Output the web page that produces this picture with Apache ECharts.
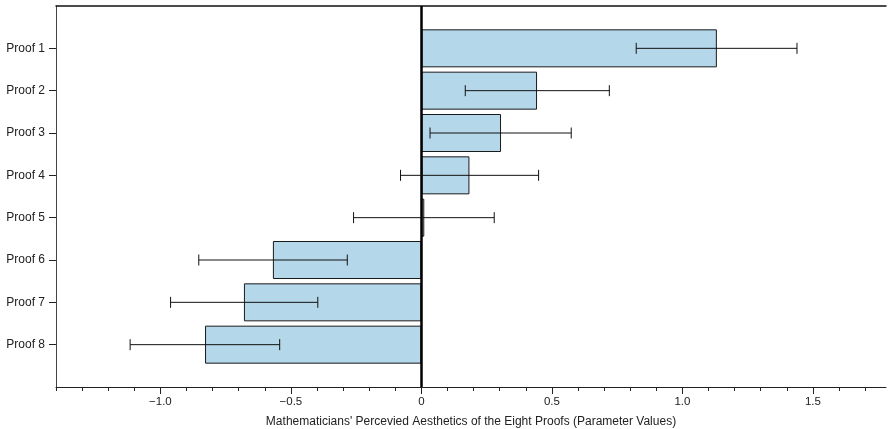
<!DOCTYPE html>
<html>
<head>
<meta charset="utf-8">
<script src="https://cdn.jsdelivr.net/npm/echarts@6/dist/echarts.min.js"></script>
<style>html,body{margin:0;padding:0;background:#fff}#c{width:888px;height:429px}</style>
</head>
<body>
<div id="c"></div>
<script>
// ---- data ----
const categories = ['Proof 1','Proof 2','Proof 3','Proof 4','Proof 5','Proof 6','Proof 7','Proof 8'];
const estimates  = [1.132, 0.443, 0.305, 0.184, 0.011, -0.569, -0.680, -0.829];
const errLow     = [0.823, 0.168, 0.033, -0.080, -0.260, -0.853, -0.961, -1.116];
const errHigh    = [1.439, 0.720, 0.574, 0.449, 0.279, -0.284, -0.397, -0.543];
const majorTicks = [-1.0, -0.5, 0, 0.5, 1.0, 1.5];
const majorLabels = ['\u22121.0', '\u22120.5', '0', '0.5', '1.0', '1.5'];
const minorTicks = [-1.4,-1.3,-1.2,-1.1,-1.0,-0.9,-0.8,-0.7,-0.6,-0.5,-0.4,-0.3,-0.2,-0.1,0,0.1,0.2,0.3,0.4,0.5,0.6,0.7,0.8,0.9,1.0,1.1,1.2,1.3,1.4,1.5,1.6,1.7];
const xTitle = "Mathematicians' Percevied Aesthetics of the Eight Proofs (Parameter Values)";
const xMin = -1.4, xMax = 1.78;

const yCats = [''].concat(categories).concat(['']);
const FONT = '"Liberation Sans", Arial, Helvetica, sans-serif';

const chart = echarts.init(document.getElementById('c'), null, {renderer:'canvas'});
chart.setOption({
  animation: false,
  grid: {left: 56, right: 2, top: 6, bottom: 42, containLabel: false, outerBoundsMode: 'none'},
  xAxis: [
    {
      type: 'value', min: xMin, max: xMax, position: 'bottom',
      splitLine: {show: false},
      axisLine: {show: true, lineStyle: {color: '#222', width: 1}},
      axisTick: {show: true, length: 7, customValues: majorTicks, lineStyle: {color: '#222'}},
      axisLabel: {
        customValues: majorTicks, color: '#222', fontSize: 11.5, fontFamily: FONT, margin: 9,
        formatter: function (v) {
          for (let i = 0; i < majorTicks.length; i++) if (Math.abs(v - majorTicks[i]) < 1e-6) return majorLabels[i];
          return '';
        }
      },
      name: xTitle, nameLocation: 'middle', nameGap: 29,
      nameTextStyle: {color: '#222', fontSize: 12, fontFamily: FONT}
    },
    {
      type: 'value', min: xMin, max: xMax, position: 'bottom',
      splitLine: {show: false},
      axisLine: {show: false},
      axisTick: {show: true, length: 4, customValues: minorTicks, lineStyle: {color: '#222'}},
      axisLabel: {show: false}
    },
    {
      type: 'value', min: xMin, max: xMax, position: 'top',
      splitLine: {show: false},
      axisLine: {show: true, lineStyle: {color: '#111', width: 1.5}},
      axisTick: {show: false}, axisLabel: {show: false}
    }
  ],
  yAxis: {
    type: 'category', data: yCats, inverse: true, boundaryGap: false,
    axisLine: {show: true, onZero: false, lineStyle: {color: '#444', width: 1}},
    axisTick: {show: true, length: 7, lineStyle: {color: '#222'},
      interval: function (i, v) { return v !== ''; }},
    axisLabel: {color: '#222', fontSize: 12, fontFamily: FONT, margin: 11,
      interval: function (i, v) { return v !== ''; }},
    splitLine: {show: false}
  },
  series: [
    {
      type: 'bar', xAxisIndex: 0,
      data: [null].concat(estimates).concat([null]),
      barWidth: 38,
      itemStyle: {color: '#b4d7ea', borderColor: '#1a1a1a', borderWidth: 1},
      markLine: {
        silent: true, symbol: 'none', label: {show: false},
        lineStyle: {color: '#000', width: 2.5, type: 'solid'},
        data: [{xAxis: 0}]
      },
      z: 2
    },
    {
      type: 'custom', xAxisIndex: 0,
      data: categories.map((c, i) => [i + 1, errLow[i], errHigh[i]]),
      encode: {x: [1, 2], y: 0},
      renderItem: function (params, api) {
        const y = api.value(0);
        const p1 = api.coord([api.value(1), y]);
        const p2 = api.coord([api.value(2), y]);
        const h = 5.5;
        const st = {stroke: '#111', lineWidth: 1};
        return {
          type: 'group',
          children: [
            {type: 'line', shape: {x1: p1[0], y1: p1[1], x2: p2[0], y2: p2[1]}, style: st},
            {type: 'line', shape: {x1: p1[0], y1: p1[1] - h, x2: p1[0], y2: p1[1] + h}, style: st},
            {type: 'line', shape: {x1: p2[0], y1: p2[1] - h, x2: p2[0], y2: p2[1] + h}, style: st}
          ]
        };
      },
      z: 5
    }
  ]
});
</script>
</body>
</html>
